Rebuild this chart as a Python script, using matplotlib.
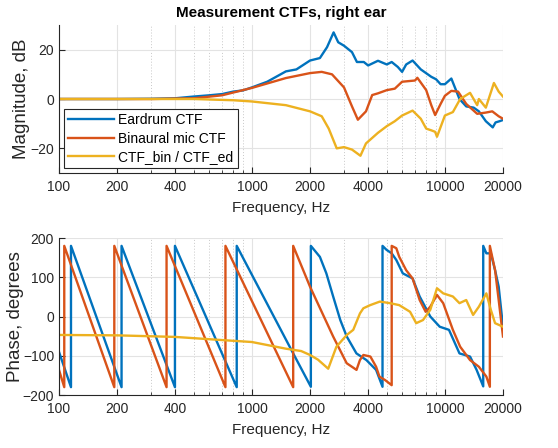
import matplotlib
matplotlib.use("Agg")
import matplotlib.pyplot as plt
from matplotlib.ticker import FixedLocator, NullFormatter

# magnitude (dB)
ed_mag_f = [100, 200, 300, 400, 500, 600, 700, 800, 900, 1000, 1200, 1500, 1700, 2000, 2250, 2450,
            2650, 2800, 3000, 3300, 3500, 3800, 4000, 4500, 5000, 5300, 5700, 6000, 6300, 6800, 7500,
            8500, 9000, 9500, 10000, 10800, 11900, 12900, 14100, 15000, 16300, 17700, 18300, 19200, 20000]
ed_mag_db = [0, 0, 0.1, 0.3, 1, 1.5, 2, 3, 3.5, 4.7, 7, 11.2, 12, 15.6, 16.6, 21,
             27, 23, 21.6, 19, 15, 15, 13.6, 15.5, 14, 15, 13, 11, 14, 15.6, 12,
             9, 8, 6, 6, 8.3, 0, -3, -3.5, -5, -9, -11.5, -9.5, -9, -8.5]

bin_mag_f = [100, 300, 500, 700, 1000, 1500, 2000, 2300, 2600, 3000, 3300, 3540, 3900, 4200, 4500,
             5000, 5500, 6000, 7000, 7200, 8000, 8500, 8900, 9500, 10000, 10800, 11700, 12900, 14700,
             16300, 17600, 19000, 20000]
bin_mag_db = [0, 0, 0.3, 1.5, 4.5, 8.5, 10.5, 11, 10, 4.7, -3, -8.4, -5, 1.6, 2.3,
              3.6, 4.2, 7, 7.5, 8.6, 3.6, -2.5, -6.5, -2, 1.3, 3.3, 3, -2, -6,
              -5.5, -5, -7, -8]

rat_mag_f = [100, 500, 800, 1000, 1500, 2000, 2300, 2500, 2750, 3000, 3300, 3650, 3900, 4500, 5000,
             5500, 6000, 6800, 7500, 8000, 8500, 8900, 9100, 10000, 11000, 12000, 13500, 14700,
             15000, 16300, 17950, 19000, 20000]
rat_mag_db = [0, 0, -0.5, -1, -2.5, -5, -7, -12, -20, -19.5, -20.5, -23, -18, -13.7, -11,
              -9, -6.7, -4.7, -8, -12, -12.7, -13.3, -15.3, -6.7, -5.3, 0, 2.5, -2.5,
              0, -3.5, 6.5, 3, 1]

# phase (degrees), wrapped, jumps repeated at the same frequency
ed_ph_f = [100, 115.4, 115.4, 211, 211, 399, 399, 834, 834, 1636, 2020, 2020, 2250, 2430, 2636,
           2870, 3100, 3480, 3920, 4400, 4750, 4750, 4980, 5300, 5600, 6050, 6800, 7400, 8400,
           9400, 10500, 11900, 13500, 14600, 15800, 15800, 16400, 17300, 18200, 19000, 20000]
ed_ph_deg = [-90, -180, 180, -180, 180, -180, 180, -180, 180, -94, -179, 180, 152, 110, 51,
             -9, -51, -94, -111, -136, -179, 180, 170, 161, 144, 110, 97, 51, 0,
             -26, -34, -94, -102, -136, -178, 180, 161, 161, 118, 76, -26]

bin_ph_f = [100, 106.5, 106.5, 193.5, 193.5, 361, 361, 729, 729, 1636, 1636, 2000, 2636, 3097, 3483,
            3628, 3780, 4110, 4400, 4578, 4900, 5300, 5300, 5600, 5800, 6300, 6800, 7400, 7950,
            8400, 9100, 9800, 11000, 12000, 13500, 15000, 16400, 17100, 17100, 18200, 19000, 20000]
bin_ph_deg = [-136, -180, 180, -180, 180, -180, 180, -180, 180, -180, 180, 76, -51, -119, -136,
              -111, -98, -102, -128, -153, -162, -175, 180, 174, 152, 118, 97, 42, 12,
              25, 55, 34, -34, -77, -111, -128, -153, -179, 180, 118, 42, -51]

rat_ph_f = [100, 200, 400, 700, 1000, 1500, 1800, 2000, 2200, 2485, 2740, 3100, 3350, 3630, 3780,
            4100, 4600, 5200, 5800, 6600, 7100, 7700, 8400, 9100, 9800, 11000, 11900, 12900,
            14000, 15000, 16400, 17300, 18200, 20000]
rat_ph_deg = [-47, -48, -52, -60, -65, -82, -88, -98, -110, -133, -77, -47, -34, 8, 21,
              29, 38, 34, 29, 12, -17, -9, 17, 72, 59, 51, 34, 42,
              4, 25, 59, 17, -17, -26]

labels = ["Eardrum CTF", "Binaural mic CTF", "CTF_bin / CTF_ed"]
colors = ["#0072BD", "#D95319", "#EDB120"]
xticks = [100, 200, 400, 1000, 2000, 4000, 10000, 20000]
minor = [m * d for d in (100, 1000, 10000) for m in range(2, 10) if m * d <= 20000 and m * d not in xticks]

plt.rcParams["font.family"] = ["Liberation Sans", "DejaVu Sans"]
fig = plt.figure(figsize=(5.58, 4.48), dpi=100)
ax1 = fig.add_axes([0.1057, 0.6138, 0.7957, 0.3304])
ax2 = fig.add_axes([0.1057, 0.1183, 0.7957, 0.3504])

ax1.plot(ed_mag_f, ed_mag_db, color=colors[0], lw=1.7, label=labels[0])
ax1.plot(bin_mag_f, bin_mag_db, color=colors[1], lw=1.7, label=labels[1])
ax1.plot(rat_mag_f, rat_mag_db, color=colors[2], lw=1.7, label=labels[2])
ax2.plot(ed_ph_f, ed_ph_deg, color=colors[0], lw=1.7)
ax2.plot(bin_ph_f, bin_ph_deg, color=colors[1], lw=1.7)
ax2.plot(rat_ph_f, rat_ph_deg, color=colors[2], lw=1.7)

for ax in (ax1, ax2):
    ax.set_xscale("log")
    ax.set_xlim(100, 20000)
    ax.set_xticks(xticks)
    ax.set_xticklabels([str(t) for t in xticks])
    ax.xaxis.set_minor_locator(FixedLocator(minor))
    ax.xaxis.set_minor_formatter(NullFormatter())
    ax.grid(True, which="major", color="#e3e3e3", lw=0.8, ls="-")
    ax.grid(True, which="minor", axis="x", color="#c8c8c8", lw=0.7, ls=(0, (1, 2)))
    ax.set_axisbelow(True)
    for s in ("top", "right"):
        ax.spines[s].set_visible(False)
    for s in ("left", "bottom"):
        ax.spines[s].set_color("#262626")
        ax.spines[s].set_linewidth(0.8)
    ax.tick_params(which="both", direction="in", colors="#262626", labelsize=10)
    ax.tick_params(which="major", length=4)
    ax.tick_params(which="minor", length=2.5)
    ax.tick_params(axis="x", which="major", pad=5)
    ax.set_xlabel("Frequency, Hz", fontsize=11, color="#262626", labelpad=5)

ax1.set_ylim(-30, 30)
ax1.set_yticks([-20, 0, 20])
ax1.set_ylabel("Magnitude, dB", fontsize=13.5, color="#262626", labelpad=0)
ax1.set_title("Measurement CTFs, right ear", fontsize=11, fontweight="bold", pad=6)
leg = ax1.legend(loc="lower left", bbox_to_anchor=(0.012, 0.035), fontsize=10, fancybox=False,
                 framealpha=1, edgecolor="#262626", handlelength=3.3, borderpad=0.3,
                 labelspacing=0.3, handletextpad=0.3, borderaxespad=0)
leg.get_frame().set_linewidth(0.8)

ax2.set_ylim(-200, 200)
ax2.set_yticks([-200, -100, 0, 100, 200])
ax2.set_ylabel("Phase, degrees", fontsize=13.5, color="#262626", labelpad=-1)

fig.savefig("out.png", dpi=100)
